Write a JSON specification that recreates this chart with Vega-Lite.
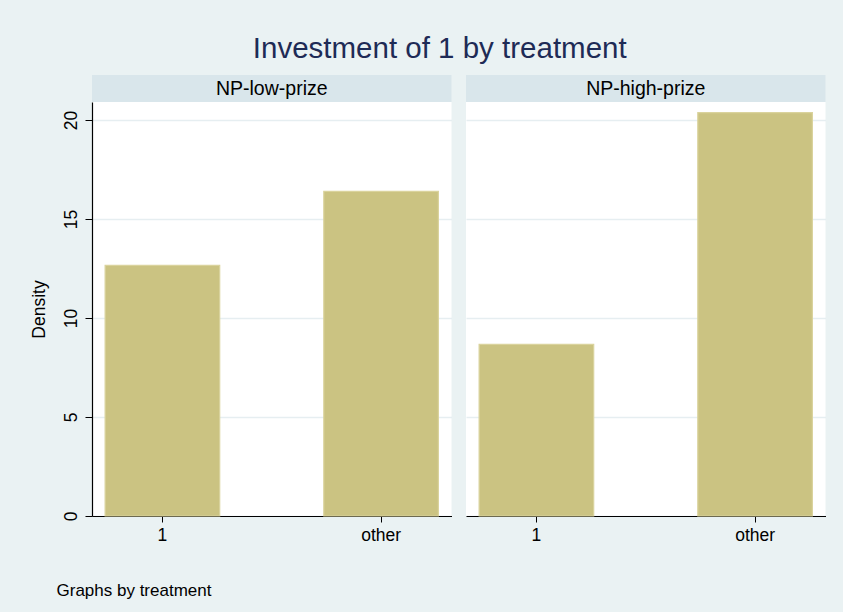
{
  "$schema": "https://vega.github.io/schema/vega-lite/v6.json",
  "background": "#EAF2F3",
  "padding": {"left": 30, "top": 33, "right": 18, "bottom": 14},
  "title": {
    "text": "Investment of 1 by treatment",
    "font": "Liberation Sans",
    "fontSize": 29.5,
    "fontWeight": "normal",
    "color": "#1E2B56",
    "anchor": "middle",
    "dx": 12,
    "offset": 11
  },
  "datasets": {
    "hist": [
      {"treatment": "NP-low-prize", "category": "1", "density": 12.66},
      {"treatment": "NP-low-prize", "category": "other", "density": 16.40},
      {"treatment": "NP-high-prize", "category": "1", "density": 8.67},
      {"treatment": "NP-high-prize", "category": "other", "density": 20.37}
    ]
  },
  "data": {"name": "hist"},
  "spacing": 14,
  "hconcat": [
    {
      "spacing": 0,
      "vconcat": [
        {
          "width": 359.5,
          "height": 27,
          "view": {"fill": "#D9E6EB", "stroke": null},
          "transform": [
            {"filter": "datum.treatment === 'NP-low-prize'"},
            {"aggregate": [{"op": "count", "as": "n"}], "groupby": ["treatment"]}
          ],
          "mark": {"type": "text", "font": "Liberation Sans", "fontSize": 19.5, "color": "#000000", "baseline": "middle", "align": "center"},
          "encoding": {"text": {"field": "treatment", "type": "nominal"}}
        },
        {
          "width": 359.5,
          "height": 414,
          "view": {"fill": "#FFFFFF", "stroke": null},
          "transform": [{"filter": "datum.treatment === 'NP-low-prize'"}],
          "mark": {"type": "bar", "color": "#CBC382", "stroke": "#DAD39D", "strokeWidth": 1.2},
          "encoding": {
            "x": {
              "field": "category",
              "type": "nominal",
              "sort": ["1", "other"],
              "scale": {"paddingInner": 0.476, "paddingOuter": 0.06},
              "axis": {
                "title": "Graphs by treatment",
                "titleFont": "Liberation Sans",
                "titleFontSize": 17,
                "titleFontWeight": "normal",
                "titleColor": "#000000",
                "titleAnchor": "start",
                "titleAlign": "left",
                "titleBaseline": "alphabetic",
                "titleX": -36,
                "titleY": 79,
                "labelAngle": 0,
                "labelFont": "Liberation Sans",
                "labelFontSize": 17.5,
                "labelColor": "#000000",
                "labelPadding": 4,
                "tickSize": 6,
                "tickColor": "#000000",
                "domainColor": "#000000",
                "domainWidth": 1.2,
                "grid": false
              }
            },
            "y": {
              "field": "density",
              "type": "quantitative",
              "scale": {"domain": [0, 20.91], "nice": false, "zero": true},
              "axis": {
                "title": "Density",
                "titleFont": "Liberation Sans",
                "titleFontSize": 17.5,
                "titleFontWeight": "normal",
                "titleColor": "#000000",
                "titlePadding": 14,
                "values": [0, 5, 10, 15, 20],
                "labelAngle": -90,
                "labelAlign": "center",
                "labelBaseline": "bottom",
                "labelFont": "Liberation Sans",
                "labelFontSize": 17.5,
                "labelColor": "#000000",
                "labelPadding": 5,
                "tickSize": 7,
                "tickColor": "#000000",
                "domainColor": "#000000",
                "domainWidth": 1.2,
                "grid": true,
                "gridColor": "#E6EEF1",
                "gridWidth": 1.5,
                "minExtent": 30,
                "maxExtent": 30
              }
            }
          }
        }
      ]
    },
    {
      "spacing": 0,
      "vconcat": [
        {
          "width": 359.5,
          "height": 27,
          "view": {"fill": "#D9E6EB", "stroke": null},
          "transform": [
            {"filter": "datum.treatment === 'NP-high-prize'"},
            {"aggregate": [{"op": "count", "as": "n"}], "groupby": ["treatment"]}
          ],
          "mark": {"type": "text", "font": "Liberation Sans", "fontSize": 19.5, "color": "#000000", "baseline": "middle", "align": "center"},
          "encoding": {"text": {"field": "treatment", "type": "nominal"}}
        },
        {
          "width": 359.5,
          "height": 414,
          "view": {"fill": "#FFFFFF", "stroke": null},
          "transform": [{"filter": "datum.treatment === 'NP-high-prize'"}],
          "mark": {"type": "bar", "color": "#CBC382", "stroke": "#DAD39D", "strokeWidth": 1.2},
          "encoding": {
            "x": {
              "field": "category",
              "type": "nominal",
              "sort": ["1", "other"],
              "scale": {"paddingInner": 0.476, "paddingOuter": 0.06},
              "axis": {
                "title": null,
                "labelAngle": 0,
                "labelFont": "Liberation Sans",
                "labelFontSize": 17.5,
                "labelColor": "#000000",
                "labelPadding": 4,
                "tickSize": 6,
                "tickColor": "#000000",
                "domainColor": "#000000",
                "domainWidth": 1.2,
                "grid": false
              }
            },
            "y": {
              "field": "density",
              "type": "quantitative",
              "scale": {"domain": [0, 20.91], "nice": false, "zero": true},
              "axis": {
                "title": null,
                "values": [0, 5, 10, 15, 20],
                "labels": false,
                "ticks": false,
                "domain": false,
                "grid": true,
                "gridColor": "#E6EEF1",
                "gridWidth": 1.5,
                "minExtent": 0,
                "maxExtent": 0
              }
            }
          }
        }
      ]
    }
  ],
  "config": {
    "view": {"stroke": null},
    "concat": {"spacing": 14}
  }
}
